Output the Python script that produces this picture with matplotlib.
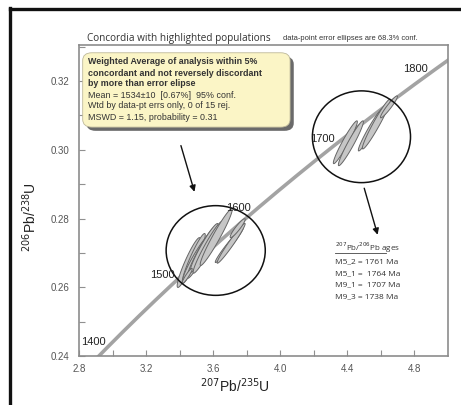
import numpy as np
import matplotlib
matplotlib.use("Agg")
import matplotlib.pyplot as plt
from matplotlib.patches import Ellipse, Polygon, FancyBboxPatch
from matplotlib.lines import Line2D

# ---- data ----
# concordia age markers (Ma)
marker_ages = [1400, 1500, 1600, 1700, 1800]
concordia_span = [1350, 1860]
LAMBDA_238 = 1.55125e-10
LAMBDA_235 = 9.8485e-10

# lower population ellipses: center x (207/235), center y (206/238), half-extent x, half-extent y, rho
low_cx = [3.454, 3.484, 3.507, 3.528, 3.546, 3.567, 3.618, 3.696, 3.707, 3.746, 3.445]
low_cy = [0.2672, 0.2684, 0.2690, 0.2700, 0.27145, 0.2716, 0.2746, 0.2723, 0.2728, 0.2772, 0.2633]
low_sx = [0.0687, 0.0687, 0.0866, 0.0836, 0.0836, 0.0866, 0.0955, 0.0836, 0.0836, 0.0448, 0.030]
low_sy = [0.00725, 0.00725, 0.00696, 0.0074, 0.0071, 0.0075, 0.00826, 0.0051, 0.0058, 0.00275, 0.0022]
low_rho = [0.93, 0.94, 0.95, 0.95, 0.95, 0.96, 0.965, 0.975, 0.975, 0.93, 0.93]

# upper population ellipses
up_cx = [4.388, 4.421, 4.540, 4.573, 4.648]
up_cy = [0.3022, 0.3019, 0.3059, 0.3075, 0.3125]
up_sx = [0.0716, 0.0746, 0.0746, 0.0836, 0.0507]
up_sy = [0.00623, 0.00652, 0.00623, 0.00725, 0.00319]
up_rho = [0.96, 0.96, 0.965, 0.965, 0.95]

# highlight circles (center x, center y, width, height)
circle_cx = [3.615, 4.484]
circle_cy = [0.2707, 0.3038]
circle_w = [0.591, 0.585]
circle_h = [0.0261, 0.0267]

box_lines_bold = ["Weighted Average of analysis within 5%",
                  "concordant and not reversely discordant",
                  "by more than error elipse"]
box_lines = ["Mean = 1534\u00b110  [0.67%]  95% conf.",
             "Wtd by data-pt errs only, 0 of 15 rej.",
             "MSWD = 1.15, probability = 0.31"]

ages_header = r"$^{207}$Pb/$^{206}$Pb ages"
ages_labels = ["M5_2 = 1761 Ma", "M5_1 =  1764 Ma", "M9_1 =  1707 Ma", "M9_3 = 1738 Ma"]

xticks = [2.8, 3.2, 3.6, 4.0, 4.4, 4.8]
yticks = [0.24, 0.26, 0.28, 0.30, 0.32]


def conc(t_ma):
    t = np.asarray(t_ma, dtype=float) * 1e6
    return np.exp(LAMBDA_235 * t) - 1, np.exp(LAMBDA_238 * t) - 1


fig = plt.figure(figsize=(4.61, 4.05), dpi=100)
ax = fig.add_axes([79 / 461, 49 / 405, 369 / 461, 311 / 405])
ax.set_xlim(2.8, 5.0)
ax.set_ylim(0.24, 0.3305)

# concordia
ts = np.linspace(concordia_span[0], concordia_span[1], 400)
cx_, cy_ = conc(ts)
ax.plot(cx_, cy_, color="#a3a3a3", lw=2.6, solid_capstyle="butt", zorder=2)
mx, my = conc(marker_ages)
for a, x, y in zip(marker_ages, mx, my):
    ax.annotate(str(a), (x, y), xytext=(-1, 0), textcoords="offset points",
                ha="right", va="bottom", fontsize=8, color="#222222",
                family="Liberation Sans", zorder=5)


def draw_ellipse(cx, cy, sx, sy, rho):
    t = np.linspace(0, 2 * np.pi, 120)
    xs = cx + sx * np.cos(t)
    ys = cy + sy * (rho * np.cos(t) + np.sqrt(1 - rho ** 2) * np.sin(t))
    ax.add_patch(Polygon(np.column_stack([xs, ys]), closed=True, facecolor="#c6c6c6",
                         edgecolor="#666666", lw=0.7, zorder=3))


for p in zip(low_cx, low_cy, low_sx, low_sy, low_rho):
    draw_ellipse(*p)
for p in zip(up_cx, up_cy, up_sx, up_sy, up_rho):
    draw_ellipse(*p)

for x, y, w, h in zip(circle_cx, circle_cy, circle_w, circle_h):
    ax.add_patch(Ellipse((x, y), w, h, fill=False, edgecolor="#111111", lw=1.1, zorder=4))

# arrows
ax.annotate("", xy=(3.493, 0.2870), xytext=(3.403, 0.3020),
            arrowprops=dict(arrowstyle="-|>", color="#111111", lw=1.0, mutation_scale=9))
ax.annotate("", xy=(4.585, 0.2745), xytext=(4.496, 0.2896),
            arrowprops=dict(arrowstyle="-|>", color="#111111", lw=1.0, mutation_scale=9))

# yellow info box with shadow
bx0, bx1 = 0.010, 0.572
by0, by1 = 0.736, 0.975
shadow = FancyBboxPatch((bx0 + 0.010, by0 - 0.012), bx1 - bx0, by1 - by0,
                        boxstyle="round,pad=0,rounding_size=0.025", transform=ax.transAxes,
                        facecolor="#6a6a6a", edgecolor="none", zorder=6)
box = FancyBboxPatch((bx0, by0), bx1 - bx0, by1 - by0,
                     boxstyle="round,pad=0,rounding_size=0.025", transform=ax.transAxes,
                     facecolor="#fbf5c6", edgecolor="#bdb89a", lw=0.6, zorder=7)
ax.add_patch(shadow)
ax.add_patch(box)
lines = [(s, "bold") for s in box_lines_bold] + [(s, "normal") for s in box_lines]
for i, (s, w) in enumerate(lines):
    ypx = 62 + 11 * i
    fig.text(88 / 461, 1 - ypx / 405, s, ha="left", va="center", fontsize=6.4,
             fontweight=w, color="#333333", family="Liberation Sans", zorder=8)

# ages list
fig.text(335 / 461, 1 - 248 / 405, ages_header, ha="left", va="center", fontsize=5.8,
         color="#333333", family="Open Sans")
fig.add_artist(Line2D([335 / 461, 386 / 461], [1 - 253 / 405, 1 - 253 / 405],
                      color="#444444", lw=0.6))
for i, s in enumerate(ages_labels):
    fig.text(335 / 461, 1 - (262 + 11.6 * i) / 405, s, ha="left", va="center",
             fontsize=6, color="#333333", family="Open Sans")

# titles
fig.text(87 / 461, 1 - 38 / 405, "Concordia with highlighted populations", ha="left",
         va="center", fontsize=7.2, color="#333333", family="Open Sans")
fig.text(283 / 461, 1 - 38 / 405, "data-point error ellipses are 68.3% conf.", ha="left",
         va="center", fontsize=5.4, color="#333333", family="Liberation Sans")

# axes styling
ax.set_xticks(xticks)
ax.set_xticklabels(["%.1f" % v for v in xticks])
ax.set_yticks(yticks)
ax.set_yticklabels(["%.2f" % v for v in yticks])
ax.set_xticks(np.arange(3.0, 5.0, 0.4), minor=True)
ax.set_yticks(np.arange(0.25, 0.331, 0.02), minor=True)
ax.tick_params(which="both", direction="in", length=4, color="#909090", width=0.8,
               labelsize=7, labelcolor="#555555")
ax.tick_params(axis="x", pad=6)
ax.tick_params(axis="y", pad=7)
for lab in ax.get_xticklabels() + ax.get_yticklabels():
    lab.set_family("Liberation Sans")
for sp in ax.spines.values():
    sp.set_color("#8c8c8c")
    sp.set_linewidth(1.2)

fig.text(235 / 461, 1 - 386 / 405, r"$^{207}$Pb/$^{235}$U", ha="center", va="center",
         fontsize=10, color="#222222", family="Liberation Sans")
fig.text(30 / 461, 1 - 217 / 405, r"$^{206}$Pb/$^{238}$U", ha="center", va="center",
         fontsize=10, rotation=90, color="#222222", family="Liberation Sans")

# outer frame lines (left and top)
fig.add_artist(Line2D([10 / 461, 10 / 461], [0, 1 - 8 / 405], color="#111111", lw=2.4))
fig.add_artist(Line2D([10 / 461, 1], [1 - 9 / 405, 1 - 9 / 405], color="#111111", lw=2.4))

fig.savefig("out.png", dpi=100)
